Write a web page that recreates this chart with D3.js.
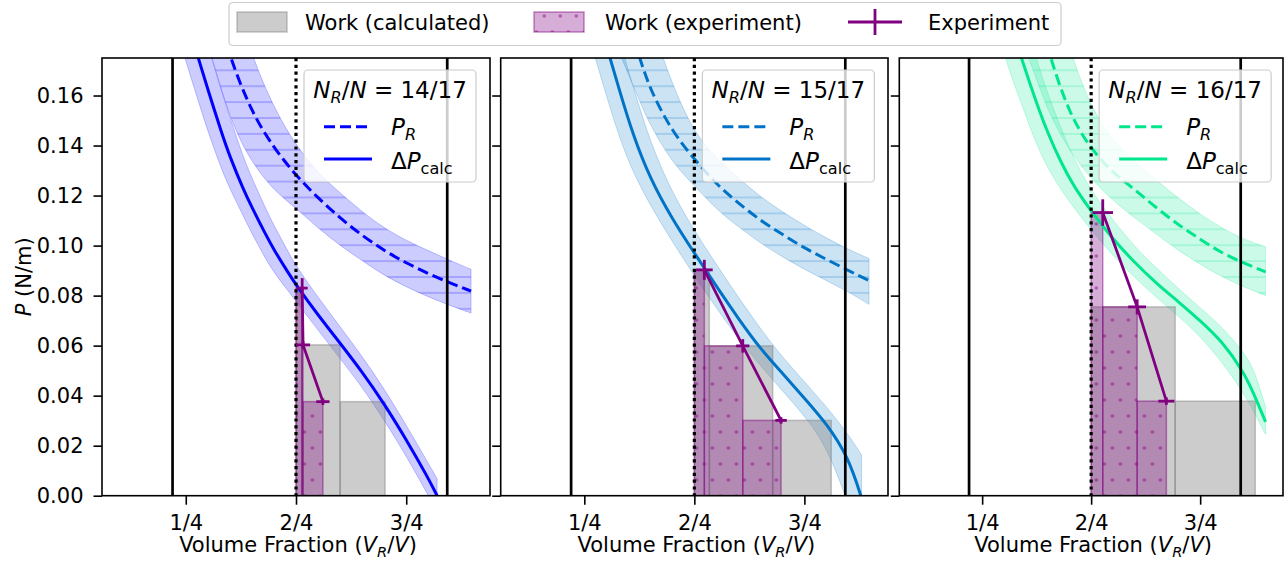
<!DOCTYPE html>
<html><head><meta charset="utf-8">
<script src="https://cdn.jsdelivr.net/npm/d3@7/dist/d3.min.js"></script>
<style>
html,body{margin:0;padding:0;background:#fff;}
svg{display:block;}
text{font-family:"DejaVu Sans",sans-serif;fill:#000;}
</style></head><body>
<svg id="chart" width="1287" height="567"></svg>
<script>
// ---------------- data ----------------
const panelRatios = ["14/17", "15/17", "16/17"];
const panelColors = ["#0000ff", "#0073c6", "#00e68c"];
const xTickValues = [0.25, 0.5, 0.75];
const xTickLabels = ["1/4", "2/4", "3/4"];
const yTickValues = [0, 0.02, 0.04, 0.06, 0.08, 0.10, 0.12, 0.14, 0.16];
const xDomain = [0.06, 0.94];
const yDomain = [0, 0.175];
const boundaryLines = [0.22, 0.843];
const midLine = 0.5;
const legendLabels = ["Work (calculated)", "Work (experiment)", "Experiment"];

// Panel 1 (N_R/N = 14/17)
const calcX1   = [0.21, 0.24, 0.26, 0.28, 0.30, 0.33, 0.35, 0.38, 0.40, 0.43, 0.45, 0.48, 0.50, 0.55, 0.60, 0.65, 0.70, 0.75, 0.80, 0.82];
const calcMid1 = [0.222, 0.199, 0.186, 0.174, 0.1625, 0.1457, 0.1355, 0.1227, 0.1153, 0.1048, 0.0983, 0.0898, 0.0843, 0.0722, 0.061, 0.0495, 0.0368, 0.0225, 0.007, 0.0];
const calcLo1  = [0.199, 0.180, 0.168, 0.157, 0.1457, 0.131, 0.1227, 0.112, 0.1048, 0.095, 0.0893, 0.0823, 0.0778, 0.0662, 0.0548, 0.0435, 0.0302, 0.016, 0.0, -0.006];
const calcHi1  = [0.25, 0.222, 0.207, 0.1925, 0.180, 0.1625, 0.1513, 0.1355, 0.127, 0.1153, 0.108, 0.0983, 0.0918, 0.0793, 0.0676, 0.0557, 0.0428, 0.0282, 0.013, 0.0068];
const prX1   = [0.30, 0.35, 0.40, 0.45, 0.50, 0.55, 0.60, 0.65, 0.70, 0.75, 0.80, 0.85, 0.897];
const prMid1 = [0.205, 0.175, 0.153, 0.139, 0.128, 0.119, 0.111, 0.104, 0.098, 0.093, 0.0888, 0.085, 0.0818];
const prLo1  = [0.181, 0.150, 0.133, 0.122, 0.115, 0.107, 0.100, 0.094, 0.088, 0.0835, 0.0795, 0.076, 0.073];
const prHi1  = [0.25, 0.205, 0.1755, 0.155, 0.140, 0.129, 0.121, 0.1135, 0.107, 0.102, 0.098, 0.094, 0.0905];
const expX1 = [0.514, 0.516, 0.561];
const expY1 = [0.083, 0.0603, 0.0376];
const expXerr1 = [0.0125, 0.016, 0.015];
const expYerr1 = [0.004, 0.0015, 0.0013];
const wExpEdges1 = [0.5, 0.514, 0.516, 0.561];
const wExpH1 = [0.083, 0.0603, 0.0376];
const wCalcEdges1 = [0.5, 0.513, 0.600, 0.702];
const wCalcH1 = [0.083, 0.0603, 0.0376];

// Panel 2 (N_R/N = 15/17)
const calcX2   = [0.25, 0.28, 0.30, 0.33, 0.36, 0.40, 0.45, 0.50, 0.55, 0.60, 0.65, 0.70, 0.75, 0.80, 0.85, 0.88];
const calcMid2 = [0.212, 0.192, 0.18, 0.162, 0.1445, 0.1265, 0.1105, 0.097, 0.0837, 0.0708, 0.0587, 0.049, 0.039, 0.029, 0.0155, -0.001];
const calcLo2  = [0.190, 0.172, 0.160, 0.143, 0.1295, 0.116, 0.1015, 0.088, 0.075, 0.0628, 0.052, 0.042, 0.032, 0.020, -0.003, -0.02];
const calcHi2  = [0.235, 0.214, 0.200, 0.182, 0.164, 0.141, 0.121, 0.106, 0.0925, 0.0793, 0.0668, 0.0554, 0.0456, 0.0357, 0.0245, 0.0163];
const prX2   = [0.33, 0.375, 0.40, 0.45, 0.50, 0.55, 0.60, 0.65, 0.70, 0.75, 0.80, 0.85, 0.897];
const prMid2 = [0.2, 0.1755, 0.162, 0.1455, 0.1345, 0.1245, 0.117, 0.110, 0.1045, 0.099, 0.0945, 0.090, 0.086];
const prLo2  = [0.177, 0.158, 0.148, 0.133, 0.124, 0.1145, 0.1075, 0.101, 0.0955, 0.0905, 0.086, 0.0815, 0.0765];
const prHi2  = [0.235, 0.205, 0.19, 0.164, 0.145, 0.135, 0.127, 0.1195, 0.1135, 0.108, 0.103, 0.0985, 0.0948];
const expX2 = [0.5227, 0.61, 0.697];
const expY2 = [0.0903, 0.0599, 0.0301];
const expXerr2 = [0.019, 0.015, 0.013];
const expYerr2 = [0.004, 0.0027, 0.0013];
const wExpEdges2 = [0.5, 0.5227, 0.61, 0.697];
const wExpH2 = [0.0903, 0.0599, 0.0301];
const wCalcEdges2 = [0.5, 0.534, 0.678, 0.811];
const wCalcH2 = [0.0903, 0.0599, 0.0301];

// Panel 3 (N_R/N = 16/17)
const calcX3   = [0.27, 0.30, 0.32, 0.34, 0.36, 0.38, 0.40, 0.43, 0.46, 0.50, 0.55, 0.60, 0.65, 0.70, 0.75, 0.80, 0.85, 0.875, 0.90];
const calcMid3 = [0.215, 0.197, 0.186, 0.175, 0.1645, 0.1545, 0.1452, 0.1335, 0.1237, 0.1138, 0.1025, 0.0932, 0.0848, 0.0776, 0.070, 0.0618, 0.0495, 0.040, 0.0295];
const calcLo3  = [0.194, 0.1768, 0.166, 0.157, 0.147, 0.1385, 0.1312, 0.1225, 0.1152, 0.1062, 0.096, 0.0872, 0.0792, 0.0718, 0.0638, 0.0535, 0.041, 0.033, 0.0245];
const calcHi3  = [0.25, 0.218, 0.206, 0.194, 0.183, 0.1716, 0.161, 0.1472, 0.1348, 0.1218, 0.1102, 0.0995, 0.091, 0.0828, 0.0752, 0.0675, 0.0575, 0.050, 0.0355];
const prX3   = [0.35, 0.38, 0.4055, 0.45, 0.50, 0.55, 0.60, 0.65, 0.70, 0.75, 0.80, 0.85, 0.90];
const prMid3 = [0.2115, 0.192, 0.1755, 0.1525, 0.1385, 0.129, 0.1225, 0.115, 0.1083, 0.1025, 0.097, 0.093, 0.0895];
const prLo3  = [0.178, 0.164, 0.152, 0.138, 0.1265, 0.118, 0.111, 0.1045, 0.098, 0.0925, 0.0875, 0.0835, 0.080];
const prHi3  = [0.255, 0.228, 0.21, 0.178, 0.155, 0.142, 0.1335, 0.126, 0.119, 0.1125, 0.107, 0.1025, 0.0995];
const expX3 = [0.5266, 0.6055, 0.6725];
const expY3 = [0.1132, 0.0755, 0.0378];
const expXerr3 = [0.0235, 0.0205, 0.0185];
const expYerr3 = [0.0053, 0.003, 0.0015];
const wExpEdges3 = [0.5, 0.5266, 0.6055, 0.6725];
const wExpH3 = [0.1132, 0.0755, 0.0378];
const wCalcEdges3 = [0.5, 0.5, 0.6927, 0.8764];
const wCalcH3 = [0.1132, 0.0755, 0.0378];

// ---------------- layout ----------------
const panels = [
  {calcX: calcX1, calcMid: calcMid1, calcLo: calcLo1, calcHi: calcHi1, prX: prX1, prMid: prMid1, prLo: prLo1, prHi: prHi1,
   expX: expX1, expY: expY1, expXerr: expXerr1, expYerr: expYerr1, wExpEdges: wExpEdges1, wExpH: wExpH1, wCalcEdges: wCalcEdges1, wCalcH: wCalcH1},
  {calcX: calcX2, calcMid: calcMid2, calcLo: calcLo2, calcHi: calcHi2, prX: prX2, prMid: prMid2, prLo: prLo2, prHi: prHi2,
   expX: expX2, expY: expY2, expXerr: expXerr2, expYerr: expYerr2, wExpEdges: wExpEdges2, wExpH: wExpH2, wCalcEdges: wCalcEdges2, wCalcH: wCalcH2},
  {calcX: calcX3, calcMid: calcMid3, calcLo: calcLo3, calcHi: calcHi3, prX: prX3, prMid: prMid3, prLo: prLo3, prHi: prHi3,
   expX: expX3, expY: expY3, expXerr: expXerr3, expYerr: expYerr3, wExpEdges: wExpEdges3, wExpH: wExpH3, wCalcEdges: wCalcEdges3, wCalcH: wCalcH3}
];
const lefts = [102, 500.7, 899.3];
const rights = [490, 888, 1283];
const plotTop = 58, plotBottom = 495.7;
const PURPLE = "#800080";
const FONT = 21;
const DASH = "11,5";

const svg = d3.select("#chart");
const defs = svg.append("defs");
const y = d3.scaleLinear().domain(yDomain).range([plotBottom, plotTop]);

// dot hatch pattern (purple)
const dots = defs.append("pattern").attr("id", "dots").attr("patternUnits", "userSpaceOnUse")
  .attr("width", 16).attr("height", 32).attr("x", 8.3).attr("y", 0);
[[0,0],[16,0],[0,32],[16,32],[8,16]].forEach(([cx, cy]) =>
  dots.append("circle").attr("cx", cx).attr("cy", cy).attr("r", 1.7).attr("fill", PURPLE).attr("fill-opacity", 0.5));
// horizontal line hatch per colour
panelColors.forEach((c, i) => {
  const p = defs.append("pattern").attr("id", "hatch" + i).attr("patternUnits", "userSpaceOnUse")
    .attr("width", 20).attr("height", 15.9).attr("x", 0).attr("y", 5.7);
  p.append("line").attr("x1", 0).attr("x2", 20).attr("y1", 1).attr("y2", 1)
    .attr("stroke", c).attr("stroke-opacity", 0.32).attr("stroke-width", 1.2);
});

function mathText(sel, parts, sub) {
  let inSub = false;
  parts.forEach(p => {
    const ts = sel.append("tspan").text(p.t);
    if (p.italic) ts.attr("font-style", "italic");
    if (p.sub && !inSub) { ts.attr("dy", sub).attr("font-size", "70%"); inSub = true; }
    else if (p.sub) { ts.attr("font-size", "70%"); }
    else if (!p.sub && inSub) { ts.attr("dy", -sub); inSub = false; }
  });
}

panels.forEach((pd, i) => {
  const c = panelColors[i];
  const x = d3.scaleLinear().domain(xDomain).range([lefts[i], rights[i]]);
  const g = svg.append("g");
  const clipId = "clip" + i;
  defs.append("clipPath").attr("id", clipId).append("rect")
    .attr("x", lefts[i]).attr("y", plotTop).attr("width", rights[i] - lefts[i]).attr("height", plotBottom - plotTop);
  const pg = g.append("g").attr("clip-path", `url(#${clipId})`);

  const calc = pd.calcX.map((v, k) => ({x: v, lo: pd.calcLo[k], mid: pd.calcMid[k], hi: pd.calcHi[k]}));
  const pr = pd.prX.map((v, k) => ({x: v, lo: pd.prLo[k], mid: pd.prMid[k], hi: pd.prHi[k]}));
  const area = d3.area().x(d => x(d.x)).y0(d => y(d.lo)).y1(d => y(d.hi)).curve(d3.curveBasis);
  const line = d3.line().x(d => x(d.x)).y(d => y(d.mid)).curve(d3.curveBasis);

  // bands
  pg.append("path").datum(calc).attr("d", area).attr("fill", c).attr("fill-opacity", 0.2)
    .attr("stroke", c).attr("stroke-opacity", 0.22).attr("stroke-width", 1);
  pg.append("path").datum(pr).attr("d", area).attr("fill", c).attr("fill-opacity", 0.2)
    .attr("stroke", c).attr("stroke-opacity", 0.22).attr("stroke-width", 1);
  pg.append("path").datum(pr).attr("d", area).attr("fill", `url(#hatch${i})`);

  // work (calculated) bars
  const grayBars = pd.wCalcH.map((h, k) => ({x0: pd.wCalcEdges[k], x1: pd.wCalcEdges[k + 1], h})).filter(b => b.x1 > b.x0);
  pg.selectAll("rect.gb").data(grayBars).join("rect").attr("class", "gb")
    .attr("x", d => x(d.x0)).attr("width", d => x(d.x1) - x(d.x0))
    .attr("y", d => y(d.h)).attr("height", d => y(0) - y(d.h))
    .attr("fill", "#808080").attr("fill-opacity", 0.4)
    .attr("stroke", "#808080").attr("stroke-opacity", 0.45).attr("stroke-width", 1.5);
  // work (experiment) bars
  const expBars = pd.wExpH.map((h, k) => ({x0: pd.wExpEdges[k], x1: pd.wExpEdges[k + 1], h})).filter(b => b.x1 > b.x0);
  pg.selectAll("rect.pb").data(expBars).join("rect").attr("class", "pb")
    .attr("x", d => x(d.x0)).attr("width", d => x(d.x1) - x(d.x0))
    .attr("y", d => y(d.h)).attr("height", d => y(0) - y(d.h))
    .attr("fill", PURPLE).attr("fill-opacity", 0.32)
    .attr("stroke", PURPLE).attr("stroke-opacity", 0.45).attr("stroke-width", 1.5);
  pg.selectAll("rect.pbh").data(expBars).join("rect").attr("class", "pbh")
    .attr("x", d => x(d.x0)).attr("width", d => x(d.x1) - x(d.x0))
    .attr("y", d => y(d.h)).attr("height", d => y(0) - y(d.h))
    .attr("fill", "url(#dots)");

  // curves
  pg.append("path").datum(pr).attr("d", line).attr("fill", "none").attr("stroke", c)
    .attr("stroke-width", 3).attr("stroke-dasharray", DASH);
  pg.append("path").datum(calc).attr("d", line).attr("fill", "none").attr("stroke", c)
    .attr("stroke-width", 3);

  // vertical reference lines
  pg.selectAll("line.bl").data(boundaryLines).join("line").attr("class", "bl")
    .attr("x1", d => x(d)).attr("x2", d => x(d)).attr("y1", plotTop).attr("y2", plotBottom)
    .attr("stroke", "#000").attr("stroke-width", 2.7);
  pg.append("line").attr("x1", x(midLine)).attr("x2", x(midLine)).attr("y1", plotTop).attr("y2", plotBottom)
    .attr("stroke", "#000").attr("stroke-width", 3.2).attr("stroke-dasharray", "3.2,3.6");

  // experiment error bars
  const pts = pd.expX.map((v, k) => ({x: v, y: pd.expY[k], xe: pd.expXerr[k], ye: pd.expYerr[k]}));
  const eg = g.append("g").attr("stroke", PURPLE).attr("stroke-width", 2.8).attr("fill", "none");
  eg.append("path").datum(pts).attr("d", d3.line().x(d => x(d.x)).y(d => y(d.y)));
  eg.selectAll("line.xe").data(pts).join("line").attr("class", "xe")
    .attr("x1", d => x(d.x - d.xe)).attr("x2", d => x(d.x + d.xe)).attr("y1", d => y(d.y)).attr("y2", d => y(d.y));
  eg.selectAll("line.ye").data(pts).join("line").attr("class", "ye")
    .attr("x1", d => x(d.x)).attr("x2", d => x(d.x)).attr("y1", d => y(d.y - d.ye)).attr("y2", d => y(d.y + d.ye));

  // axes
  const ya = d3.axisLeft(y).tickValues(yTickValues).tickSize(8.5).tickPadding(10)
    .tickFormat(i === 0 ? d3.format(".2f") : () => "");
  const yg = g.append("g").attr("transform", `translate(${lefts[i]},0)`).call(ya);
  const xa = d3.axisBottom(x).tickValues(xTickValues).tickSize(9).tickPadding(10.5)
    .tickFormat((d, k) => xTickLabels[k]);
  const xg = g.append("g").attr("transform", `translate(0,${plotBottom})`).call(xa);
  [yg, xg].forEach(ax => {
    ax.select(".domain").remove();
    ax.selectAll(".tick line").attr("stroke", "#000").attr("stroke-width", 1.6);
    ax.selectAll(".tick text").attr("font-size", FONT).attr("font-family", "DejaVu Sans").attr("fill", "#000");
  });

  // spines
  g.append("rect").attr("x", lefts[i]).attr("y", plotTop).attr("width", rights[i] - lefts[i]).attr("height", plotBottom - plotTop)
    .attr("fill", "none").attr("stroke", "#000").attr("stroke-width", 1.6);

  // x label
  const xl = g.append("text").attr("x", (lefts[i] + rights[i]) / 2 + 2).attr("y", 552).attr("text-anchor", "middle").attr("font-size", FONT);
  mathText(xl, [{t: "Volume Fraction ("}, {t: "V", italic: true}, {t: "R", italic: true, sub: true}, {t: "/"}, {t: "V", italic: true}, {t: ")"}], 5);

  // panel legend
  const lx = x(0.5) + 8, lw = 172, ly = 70, lh = 112;
  const lg = g.append("g");
  lg.append("rect").attr("x", lx).attr("y", ly).attr("width", lw).attr("height", lh).attr("rx", 4)
    .attr("fill", "#fff").attr("fill-opacity", 0.8).attr("stroke", "#cccccc").attr("stroke-width", 1.2);
  const tt = lg.append("text").attr("x", lx + lw / 2).attr("y", ly + 28).attr("text-anchor", "middle").attr("font-size", 23);
  mathText(tt, [{t: "N", italic: true}, {t: "R", italic: true, sub: true}, {t: "/"}, {t: "N", italic: true}, {t: " = " + panelRatios[i]}], 5);
  lg.append("line").attr("x1", lx + 20).attr("x2", lx + 68).attr("y1", ly + 56.7).attr("y2", ly + 56.7)
    .attr("stroke", c).attr("stroke-width", 3).attr("stroke-dasharray", DASH);
  lg.append("line").attr("x1", lx + 20).attr("x2", lx + 68).attr("y1", ly + 89).attr("y2", ly + 89)
    .attr("stroke", c).attr("stroke-width", 3);
  const t1 = lg.append("text").attr("x", lx + 87).attr("y", ly + 65).attr("font-size", 23);
  mathText(t1, [{t: "P", italic: true}, {t: "R", italic: true, sub: true}], 5);
  const t2 = lg.append("text").attr("x", lx + 87).attr("y", ly + 99).attr("font-size", 23);
  mathText(t2, [{t: "Δ"}, {t: "P", italic: true}, {t: "calc", sub: true}], 5);
});

// y label
const yl = svg.append("text").attr("transform", `translate(31,${(plotTop + plotBottom) / 2}) rotate(-90)`)
  .attr("text-anchor", "middle").attr("font-size", FONT);
mathText(yl, [{t: "P", italic: true}, {t: " (N/m)"}], 5);

// figure legend
const fl = svg.append("g");
fl.append("rect").attr("x", 229).attr("y", 2.5).attr("width", 832).attr("height", 43).attr("rx", 4)
  .attr("fill", "#fff").attr("stroke", "#cccccc").attr("stroke-width", 1.2);
fl.append("rect").attr("x", 237).attr("y", 12).attr("width", 50).attr("height", 20)
  .attr("fill", "#808080").attr("fill-opacity", 0.4).attr("stroke", "#808080").attr("stroke-opacity", 0.45).attr("stroke-width", 1.5);
fl.append("text").attr("x", 305).attr("y", 29.5).attr("font-size", FONT).text(legendLabels[0]);
fl.append("rect").attr("x", 534).attr("y", 12).attr("width", 50).attr("height", 20)
  .attr("fill", PURPLE).attr("fill-opacity", 0.32).attr("stroke", PURPLE).attr("stroke-opacity", 0.45).attr("stroke-width", 1.5);
fl.append("rect").attr("x", 534).attr("y", 12).attr("width", 50).attr("height", 20).attr("fill", "url(#dots)");
fl.append("text").attr("x", 605).attr("y", 29.5).attr("font-size", FONT).text(legendLabels[1]);
fl.append("line").attr("x1", 848).attr("x2", 902).attr("y1", 22).attr("y2", 22).attr("stroke", PURPLE).attr("stroke-width", 2.8);
fl.append("line").attr("x1", 875).attr("x2", 875).attr("y1", 9).attr("y2", 35).attr("stroke", PURPLE).attr("stroke-width", 2.8);
fl.append("text").attr("x", 928).attr("y", 29.5).attr("font-size", FONT).text(legendLabels[2]);
</script>
</body></html>
